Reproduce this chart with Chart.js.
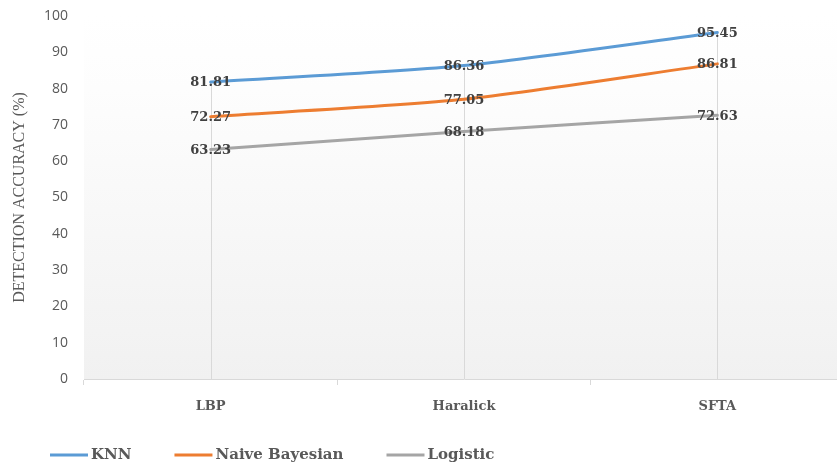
<!DOCTYPE html>
<html>
<head>
<meta charset="utf-8">
<script src="https://cdn.jsdelivr.net/npm/chart.js@4/dist/chart.umd.min.js"></script>
<style>
  html, body { margin: 0; padding: 0; background: #fff; overflow: hidden; }
  canvas { display: block; }
</style>
</head>
<body>
<canvas id="chart" width="850" height="466"></canvas>
<script>
const categories = ['LBP', 'Haralick', 'SFTA'];
const knn = [81.81, 86.36, 95.45];
const naiveBayesian = [72.27, 77.05, 86.81];
const logistic = [63.23, 68.18, 72.63];
const yTicks = [0, 10, 20, 30, 40, 50, 60, 70, 80, 90, 100];

const blue = '#5B9BD5';
const orange = '#ED7D31';
const grey = '#A5A5A5';
const serif = '"DejaVu Serif", "Liberation Serif", serif';

// plot background + drop lines under the top series
const plotDecor = {
    id: 'plotDecor',
    beforeDatasetsDraw(chart) {
        const { ctx, chartArea } = chart;
        const grad = ctx.createLinearGradient(0, chartArea.top, 0, chartArea.bottom);
        grad.addColorStop(0, '#ffffff');
        grad.addColorStop(0.2, '#fdfdfd');
        grad.addColorStop(1, '#f1f1f1');
        ctx.save();
        ctx.fillStyle = grad;
        ctx.fillRect(chartArea.left, chartArea.top, chartArea.right - chartArea.left, chartArea.bottom - chartArea.top);
        const top = chart.getDatasetMeta(0).data;
        ctx.strokeStyle = '#d9d9d9';
        ctx.lineWidth = 1;
        for (const pt of top) {
            const x = Math.round(pt.x) + 0.5;
            ctx.beginPath();
            ctx.moveTo(x, pt.y);
            ctx.lineTo(x, chartArea.bottom);
            ctx.stroke();
        }
        ctx.restore();
    }
};

const valueLabels = {
    id: 'valueLabels',
    afterDatasetsDraw(chart) {
        const { ctx } = chart;
        ctx.save();
        ctx.font = 'bold 13px ' + serif;
        ctx.fillStyle = '#404040';
        ctx.textAlign = 'center';
        ctx.textBaseline = 'middle';
        chart.data.datasets.forEach((ds, i) => {
            chart.getDatasetMeta(i).data.forEach((pt, j) => {
                ctx.fillText(ds.data[j].toFixed(2), pt.x, pt.y + 1);
            });
        });
        ctx.restore();
    }
};

// legend row along the bottom, lines + bold labels
const bottomLegend = {
    id: 'bottomLegend',
    afterDraw(chart) {
        const { ctx } = chart;
        ctx.save();
        ctx.font = 'bold 15px ' + serif;
        ctx.textBaseline = 'middle';
        ctx.textAlign = 'left';
        let x = 50;
        const y = 455;
        chart.data.datasets.forEach(ds => {
            ctx.strokeStyle = ds.borderColor;
            ctx.lineWidth = 3;
            ctx.beginPath();
            ctx.moveTo(x, y);
            ctx.lineTo(x + 38, y);
            ctx.stroke();
            ctx.fillStyle = '#595959';
            ctx.fillText(ds.label, x + 41, y);
            x += 41 + ctx.measureText(ds.label).width + 43;
        });
        ctx.restore();
    }
};

new Chart(document.getElementById('chart'), {
    type: 'line',
    data: {
        labels: categories,
        datasets: [
            { label: 'KNN', data: knn, borderColor: blue, backgroundColor: blue },
            { label: 'Naive Bayesian', data: naiveBayesian, borderColor: orange, backgroundColor: orange },
            { label: 'Logistic', data: logistic, borderColor: grey, backgroundColor: grey }
        ]
    },
    options: {
        responsive: false,
        animation: false,
        devicePixelRatio: 1,
        elements: {
            line: { borderWidth: 3, tension: 0.25, borderCapStyle: 'round' },
            point: { radius: 0, hoverRadius: 0 }
        },
        layout: { padding: { left: 7, right: 6, top: 16, bottom: 50 } },
        plugins: {
            tooltip: { enabled: false },
            legend: { display: false }
        },
        scales: {
            x: {
                offset: true,
                grid: { offset: true, drawOnChartArea: false, tickLength: 6, color: '#d9d9d9' },
                border: { color: '#d9d9d9', width: 1 },
                ticks: {
                    padding: 14,
                    color: '#595959',
                    font: { family: serif, size: 13, weight: 'bold' }
                },
                afterFit(scale) { scale.height = 37; }
            },
            y: {
                min: 0,
                max: 100,
                afterBuildTicks(scale) { scale.ticks = yTicks.map(v => ({ value: v })); },
                grid: { display: false, drawTicks: false },
                border: { display: false },
                ticks: {
                    padding: 16,
                    color: '#595959',
                    font: { family: '"Open Sans", sans-serif', size: 14 }
                },
                title: {
                    display: true,
                    text: 'DETECTION ACCURACY (%)',
                    color: '#595959',
                    padding: { top: 3, bottom: 0 },
                    font: { family: '"Liberation Serif", serif', size: 16 }
                },
                afterFit(scale) {
                    scale.width = 77;
                    scale.paddingTop = 0;
                    scale.paddingBottom = 0;
                }
            }
        }
    },
    plugins: [plotDecor, valueLabels, bottomLegend]
});
</script>
</body>
</html>
